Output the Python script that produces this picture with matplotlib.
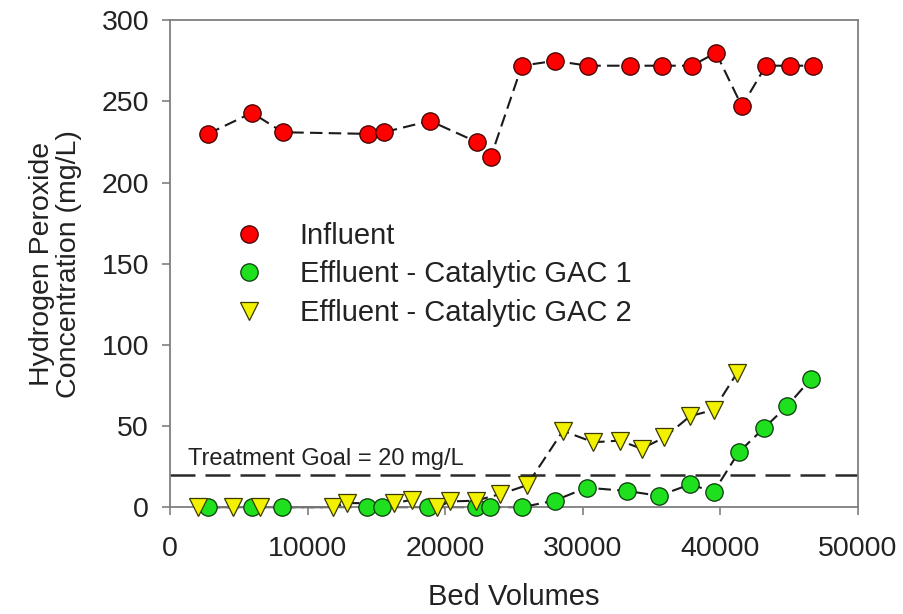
import matplotlib
matplotlib.use("Agg")
import matplotlib.pyplot as plt

# ---------------------------------------------------------------
# Hydrogen peroxide breakthrough on catalytic GAC columns
# ---------------------------------------------------------------
plt.rcParams["font.family"] = ["Liberation Sans", "DejaVu Sans"]

TEXT = "#222222"
SPINE = "#7F7F7F"

# Influent
inf_bv = [2760, 5960, 8200, 14380, 15550, 18900, 22300, 23330, 25580, 27980,
          30380, 33430, 35760, 37940, 39680, 41570, 43310, 45060, 46730]
inf_conc = [230, 243, 231, 230, 231, 238, 225, 216, 272, 275,
            272, 272, 272, 272, 280, 247, 272, 272, 272]

# Effluent - Catalytic GAC 1
gac1_bv = [2760, 5960, 8150, 14320, 15440, 18750, 22210, 23260, 25580, 27950,
           30280, 33210, 35540, 37790, 39530, 41350, 43210, 44880, 46580]
gac1_conc = [0, 0, 0, 0, 0, 0, 0, 0, 0, 4,
             12, 10, 7, 14, 9.5, 34, 49, 62.5, 79]

# Effluent - Catalytic GAC 2
gac2_bv = [2010, 4590, 6540, 11870, 12860, 16280, 17590, 19440, 20350, 22210,
           23990, 25950, 28560, 30780, 32700, 34280, 35940, 37790, 39530, 41200]
gac2_conc = [0, 0, 0, 0, 2.5, 2.5, 4.5, 0, 3.5, 4,
             8, 13.5, 47, 40, 41, 36, 43, 56, 60, 82.5]

GOAL = 20

fig = plt.figure(figsize=(9.04, 6.14), dpi=100)
ax = fig.add_axes([0.188, 0.174, 0.761, 0.793])

series = [
    (inf_bv, inf_conc, "o", "#FF0000", "#3A0000", "Influent"),
    (gac1_bv, gac1_conc, "o", "#1EE01E", "#0A3A0A", "Effluent - Catalytic GAC 1"),
    (gac2_bv, gac2_conc, "v", "#F2F200", "#3A3A00", "Effluent - Catalytic GAC 2"),
]

# dashed connectors first, markers on top
for x, y, mk, fc, ec, label in series:
    ax.plot(x, y, color="#1A1A1A", linewidth=1.5, dashes=(6, 3),
            zorder=2, clip_on=False)
for i, (x, y, mk, fc, ec, label) in enumerate(series):
    ax.plot(x, y, linestyle="none", marker=mk, markersize=12.5 if mk == "o" else 13,
            markerfacecolor=fc, markeredgecolor=ec, markeredgewidth=0.9,
            label=label, zorder=4 + i, clip_on=False)

# treatment goal
ax.axhline(GOAL, color="#2A2A2A", linewidth=1.8, dashes=(10, 4), zorder=1)
ax.text(1300, GOAL + 3, "Treatment Goal = 20 mg/L", fontsize=17,
        color=TEXT, ha="left", va="bottom")

ax.set_xlim(0, 50000)
ax.set_ylim(0, 300)
ax.set_xticks([0, 10000, 20000, 30000, 40000, 50000])
ax.set_yticks([0, 50, 100, 150, 200, 250, 300])

ax.tick_params(axis="both", direction="out", length=6, width=1.2, color=SPINE,
               labelsize=20.5, labelcolor=TEXT)
ax.tick_params(axis="y", pad=9)
ax.tick_params(axis="x", pad=15)
for side in ax.spines:
    ax.spines[side].set_color(SPINE)
    ax.spines[side].set_linewidth(1.3)

ax.set_xlabel("Bed Volumes", fontsize=21, color=TEXT, labelpad=15)
ax.set_ylabel("Hydrogen Peroxide\nConcentration (mg/L)", fontsize=20.5,
              color=TEXT, labelpad=14, linespacing=1.05)

ax.legend(loc="upper left", bbox_to_anchor=(0.055, 0.61), frameon=False,
          fontsize=21, labelcolor=TEXT, handletextpad=0.75,
          labelspacing=0.36, borderaxespad=0, numpoints=1)

fig.savefig("out.png", dpi=100)
